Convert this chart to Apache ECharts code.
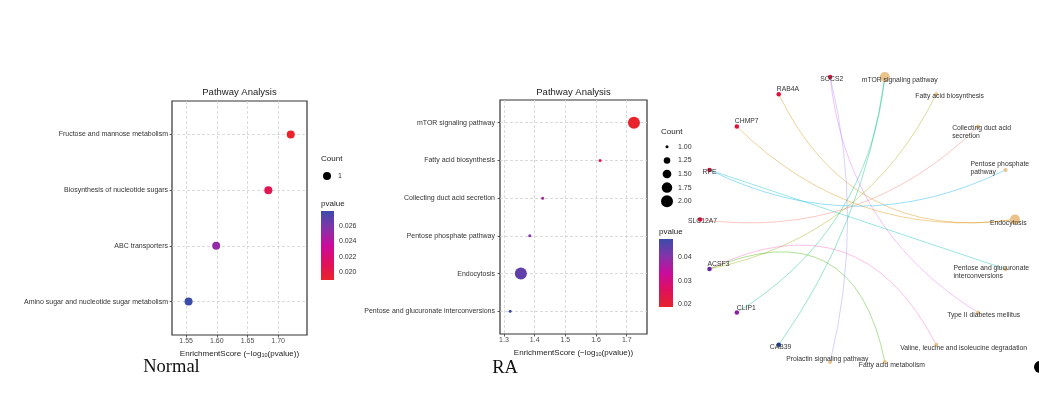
<!DOCTYPE html>
<html><head><meta charset="utf-8">
<script src="https://cdn.jsdelivr.net/npm/echarts@6/dist/echarts.min.js"></script>
<style>html,body{margin:0;padding:0;background:#fff}#c{width:1039px;height:395px}</style>
</head><body><div id="c"></div>
<script>
// ---------------- DATA ----------------
// Panel "Normal"
const normalPathways = ['Fructose and mannose metabolism', 'Biosynthesis of nucleotide sugars', 'ABC transporters', 'Amino sugar and nucleotide sugar metabolism'];
const normalScore = [1.7205, 1.684, 1.599, 1.554];
const normalPvalue = [0.0190, 0.0207, 0.0252, 0.0279];
const normalCount = [1, 1, 1, 1];
const normalXTicks = [1.55, 1.60, 1.65, 1.70];
const normalPTicks = [0.020, 0.022, 0.024, 0.026];
const normalCountTicks = [1];

// Panel "RA"
const raPathways = ['mTOR signaling pathway', 'Fatty acid biosynthesis', 'Collecting duct acid secretion', 'Pentose phosphate pathway', 'Endocytosis', 'Pentose and glucuronate interconversions'];
const raScore = [1.7235, 1.613, 1.426, 1.384, 1.355, 1.32];
const raPvalue = [0.0189, 0.0244, 0.0375, 0.0413, 0.0442, 0.0479];
const raCount = [2, 1, 1, 1, 2, 1];
const raXTicks = [1.3, 1.4, 1.5, 1.6, 1.7];
const raPTicks = [0.02, 0.03, 0.04];
const raCountTicks = [1.00, 1.25, 1.50, 1.75, 2.00];

// Network panel: node order around the circle (counter-clockwise from the right)
const networkOrder = ['Endocytosis', 'Pentose phosphate pathway', 'Collecting duct acid secretion', 'Fatty acid biosynthesis', 'mTOR signaling pathway',
  'SOCS2', 'RAB4A', 'CHMP7', 'RPE', 'SLC12A7', 'ACSF3', 'CLIP1', 'CAB39',
  'Prolactin signaling pathway', 'Fatty acid metabolism', 'Valine, leucine and isoleucine degradation', 'Type II diabetes mellitus', 'Pentose and glucuronate interconversions'];
const geneNodes = ['SOCS2', 'RAB4A', 'CHMP7', 'RPE', 'SLC12A7', 'ACSF3', 'CLIP1', 'CAB39'];
const networkLinks = [
  ['SOCS2', 'Prolactin signaling pathway'],
  ['SOCS2', 'Type II diabetes mellitus'],
  ['RAB4A', 'Endocytosis'],
  ['CHMP7', 'Endocytosis'],
  ['RPE', 'Pentose phosphate pathway'],
  ['RPE', 'Pentose and glucuronate interconversions'],
  ['SLC12A7', 'Collecting duct acid secretion'],
  ['ACSF3', 'Fatty acid biosynthesis'],
  ['ACSF3', 'Valine, leucine and isoleucine degradation'],
  ['ACSF3', 'Fatty acid metabolism'],
  ['CLIP1', 'mTOR signaling pathway'],
  ['CAB39', 'mTOR signaling pathway']
];

// ---------------- STYLE ----------------
const FONT = '"Liberation Sans", Arial, sans-serif';
const SERIF = '"Liberation Serif", "Times New Roman", serif';
const P_GRADIENT = ['#e8232b', '#e00f5e', '#c90c9c', '#8433aa', '#3b4ba9'];
const geneColor = { SOCS2: '#e0103a', RAB4A: '#e0103a', CHMP7: '#e0103a', RPE: '#e0103a', SLC12A7: '#e0103a', ACSF3: '#6a22a8', CLIP1: '#8a1fa8', CAB39: '#1f3c9c' };
const edgePalette = {
  'Collecting duct acid secretion': '#F8766D', 'Endocytosis': '#D89000', 'Fatty acid biosynthesis': '#A3A500',
  'Fatty acid metabolism': '#39B600', 'mTOR signaling pathway': '#00BF7D', 'Pentose and glucuronate interconversions': '#00BFC4',
  'Pentose phosphate pathway': '#00B0F6', 'Prolactin signaling pathway': '#9590FF', 'Type II diabetes mellitus': '#E76BF3',
  'Valine, leucine and isoleucine degradation': '#FF62BC'
};
const labelWrap = { 'Collecting duct acid secretion': 'Collecting duct acid\nsecretion', 'Pentose phosphate pathway': 'Pentose phosphate\npathway', 'Pentose and glucuronate interconversions': 'Pentose and glucuronate\ninterconversions' };
const labelNudge = {
  SOCS2: [-10, 2], RAB4A: [-2, -5], CHMP7: [-2, -5], RPE: [-7, 2], SLC12A7: [-12, 2], ACSF3: [-2, -5], CLIP1: [0, -4], CAB39: [-9, 2],
  'mTOR signaling pathway': [-23, 3], 'Fatty acid biosynthesis': [-21, 2], 'Collecting duct acid secretion': [-26, 6],
  'Pentose phosphate pathway': [-35, -2], 'Endocytosis': [-25, 4], 'Pentose and glucuronate interconversions': [-52, 3],
  'Type II diabetes mellitus': [-31, 3], 'Valine, leucine and isoleucine degradation': [-36, 3], 'Fatty acid metabolism': [-26, 3],
  'Prolactin signaling pathway': [-44, -3]
};

const grids = [], xAxes = [], yAxes = [], series = [], visualMaps = [], graphics = [];

function text(x, y, str, size, opts) {
  graphics.push({ type: 'text', x: x, y: y, silent: true, style: Object.assign({ text: str, fontSize: size, fontFamily: FONT, fill: '#222', align: 'left', verticalAlign: 'middle' }, opts || {}) });
}

function dotPlot(o) {
  const gi = grids.length;
  grids.push({ left: o.box[0], top: o.box[1], width: o.box[2], height: o.box[3], show: true, borderColor: '#333', borderWidth: 1.2, backgroundColor: '#fff' });
  const xi = xAxes.length;
  xAxes.push({
    gridIndex: gi, type: 'value', min: o.xRange[0], max: o.xRange[1], position: 'bottom',
    axisLine: { show: false, onZero: false },
    axisTick: { show: true, length: 2.5, customValues: o.xTicks, lineStyle: { color: '#333', width: 0.8 } },
    axisLabel: { customValues: o.xTicks, formatter: v => (+v).toFixed(o.dec), fontSize: 7, color: '#4d4d4d', fontFamily: FONT, margin: 3 },
    splitLine: { show: true, lineStyle: { type: [3, 2], color: '#d2d2d2', width: 0.8 } },
    name: 'EnrichmentScore (\u2212log{sub|10}(pvalue))', nameLocation: 'middle', nameGap: 13,
    nameTextStyle: { fontSize: 8, color: '#222', fontFamily: FONT, rich: { sub: { fontSize: 5.5, fontFamily: FONT, color: '#222', padding: [4, 0, 0, 0] } } }
  });
  const idx = o.cats.map((c, i) => i);
  const yi = yAxes.length;
  yAxes.push({
    gridIndex: gi, type: 'value', inverse: true, min: -0.6, max: o.cats.length - 0.4, position: 'left',
    axisLine: { show: false, onZero: false },
    axisTick: { show: true, length: 2.5, customValues: idx, lineStyle: { color: '#333', width: 0.8 } },
    axisLabel: { customValues: idx, formatter: v => o.cats[Math.round(v)], fontSize: 7, color: '#333', fontFamily: FONT, margin: o.labelMargin },
    splitLine: { show: true, lineStyle: { type: [3, 2], color: '#d2d2d2', width: 0.8 } }
  });
  const si = series.length;
  series.push({
    type: 'scatter', xAxisIndex: xi, yAxisIndex: yi, symbol: 'circle',
    data: o.cats.map((c, i) => [o.score[i], i, o.pvalue[i], o.count[i]]),
    symbolSize: v => o.sizeFn(v[3]), itemStyle: { opacity: 1 }, z: 5
  });
  const pmin = Math.min.apply(null, o.pvalue), pmax = Math.max.apply(null, o.pvalue);
  visualMaps.push({ type: 'continuous', show: false, seriesIndex: si, dimension: 2, min: pmin, max: pmax, inRange: { color: P_GRADIENT } });

  // title
  text(o.box[0] + o.box[2] / 2, o.titleY, 'Pathway Analysis', 9.5, { align: 'center' });

  // Count legend
  const cg = grids.length;
  grids.push({ left: o.countBox[0], top: o.countBox[1], width: o.countBox[2], height: o.countBox[3], show: false });
  const cxi = xAxes.length;
  xAxes.push({ gridIndex: cg, type: 'category', data: [''], show: false });
  const cyi = yAxes.length;
  yAxes.push({
    gridIndex: cg, type: 'category', inverse: true, position: 'right', data: o.countTicks.map(v => o.countFmt(v)),
    axisLine: { show: false }, axisTick: { show: false }, splitLine: { show: false },
    axisLabel: { fontSize: 7, color: '#333', fontFamily: FONT, margin: 4 }
  });
  series.push({
    type: 'scatter', xAxisIndex: cxi, yAxisIndex: cyi, symbol: 'circle', silent: true,
    data: o.countTicks.map((v, i) => [0, i, v]), symbolSize: v => o.sizeFn(v[2]), itemStyle: { color: '#000', opacity: 1 }
  });
  text(o.countBox[0] + 1, o.countTitleY, 'Count', 8);

  // pvalue colour bar
  const pg = grids.length;
  grids.push({ left: o.barBox[0], top: o.barBox[1], width: o.barBox[2], height: o.barBox[3], show: false });
  const pxi = xAxes.length;
  xAxes.push({ gridIndex: pg, type: 'value', min: 0, max: 1, show: false });
  const pyi = yAxes.length;
  yAxes.push({
    gridIndex: pg, type: 'value', min: pmin, max: pmax, position: 'right',
    axisLine: { show: false, onZero: false }, splitLine: { show: false },
    axisTick: { show: true, inside: true, length: 3, customValues: o.pTicks, lineStyle: { color: '#fff', width: 0.8 } },
    axisLabel: { customValues: o.pTicks, formatter: v => (+v).toFixed(o.pDec), fontSize: 7, color: '#333', fontFamily: FONT, margin: 5 }
  });
  yAxes.push({
    gridIndex: pg, type: 'value', min: pmin, max: pmax, position: 'left',
    axisLine: { show: false, onZero: false }, splitLine: { show: false }, axisLabel: { show: false },
    axisTick: { show: true, inside: true, length: 3, customValues: o.pTicks, lineStyle: { color: '#fff', width: 0.8 } }
  });
  series.push({
    type: 'custom', xAxisIndex: pxi, yAxisIndex: pyi, silent: true, z: 1,
    data: [[0.5, pmin, pmax]],
    renderItem: function (params, api) {
      const top = api.coord([api.value(0), api.value(2)]);
      const bot = api.coord([api.value(0), api.value(1)]);
      const cs = params.coordSys;
      return {
        type: 'rect', shape: { x: cs.x, y: top[1], width: cs.width, height: bot[1] - top[1] },
        style: { fill: new echarts.graphic.LinearGradient(0, 1, 0, 0, P_GRADIENT.map((c, i) => ({ offset: i / (P_GRADIENT.length - 1), color: c }))) }
      };
    }
  });
  text(o.barBox[0], o.pTitleY, 'pvalue', 8);
}

dotPlot({
  cats: normalPathways, score: normalScore, pvalue: normalPvalue, count: normalCount,
  xTicks: normalXTicks, dec: 2, xRange: [1.527, 1.747], box: [172, 101, 135, 234], labelMargin: 4, titleY: 92,
  sizeFn: c => 8, countTicks: normalCountTicks, countFmt: v => String(v), countBox: [320, 168, 14, 16], countTitleY: 159,
  pTicks: normalPTicks, pDec: 3, barBox: [321, 211, 13, 69], pTitleY: 204
});
dotPlot({
  cats: raPathways, score: raScore, pvalue: raPvalue, count: raCount,
  xTicks: raXTicks, dec: 1, xRange: [1.287, 1.766], box: [500, 100, 147, 234], labelMargin: 5, titleY: 92,
  sizeFn: c => Math.sqrt(9 + 135 * (c - 1)), countTicks: raCountTicks, countFmt: v => v.toFixed(2), countBox: [660, 140, 14, 68], countTitleY: 132,
  pTicks: raPTicks, pDec: 2, barBox: [659, 239, 14, 68], pTitleY: 232
});

// ---------------- Network ----------------
const ng = grids.length;
grids.push({ left: 700, top: 74.8, width: 315, height: 289.4, show: false });
const nxi = xAxes.length;
xAxes.push({ gridIndex: ng, type: 'value', min: -1, max: 1, show: false });
const nyi = yAxes.length;
yAxes.push({ gridIndex: ng, type: 'value', min: -1, max: 1, show: false });

const nodeAngle = {};
networkOrder.forEach((n, i) => { nodeAngle[n] = i * 360 / networkOrder.length; });
const degree = {};
networkLinks.forEach(l => { degree[l[0]] = (degree[l[0]] || 0) + 1; degree[l[1]] = (degree[l[1]] || 0) + 1; });

const graphNodes = networkOrder.map(name => {
  const a = nodeAngle[name] * Math.PI / 180;
  const isGene = geneNodes.indexOf(name) >= 0;
  return {
    name: name,
    value: [Math.cos(a), Math.sin(a)],
    symbolSize: isGene ? 4.5 : (degree[name] >= 2 ? 10 : 4),
    itemStyle: { color: isGene ? geneColor[name] : '#e9c38a' },
    label: {
      show: true, position: 'inside', align: 'left', verticalAlign: 'middle', offset: labelNudge[name] || [0, 0],
      formatter: labelWrap[name] || name, fontSize: 6.8, lineHeight: 8, color: '#333', fontFamily: FONT
    }
  };
});
const graphLinks = networkLinks.map(l => {
  const diff = ((nodeAngle[l[1]] - nodeAngle[l[0]]) % 360 + 360) % 360;
  const d = Math.min(diff, 360 - diff);
  const sign = diff < 180 ? 1 : -1;
  return { source: l[0], target: l[1], lineStyle: { color: edgePalette[l[1]], curveness: sign * 1.1 * (1 - d / 180) } };
});
series.push({
  type: 'graph', coordinateSystem: 'cartesian2d', xAxisIndex: nxi, yAxisIndex: nyi, silent: true,
  data: graphNodes, links: graphLinks, edgeSymbol: ['none', 'none'],
  lineStyle: { width: 0.9, opacity: 0.45 }, emphasis: { disabled: true }, z: 3
});

// panel captions
graphics.push({ type: 'text', x: 171.5, y: 367, silent: true, style: { text: 'Normal', fontSize: 18.5, fontFamily: SERIF, fill: '#111', align: 'center', verticalAlign: 'middle' } });
graphics.push({ type: 'text', x: 505, y: 368, silent: true, style: { text: 'RA', fontSize: 18.5, fontFamily: SERIF, fill: '#111', align: 'center', verticalAlign: 'middle' } });
graphics.push({ type: 'circle', shape: { cx: 1040, cy: 367, r: 6 }, style: { fill: '#000' }, silent: true });

const chart = echarts.init(document.getElementById('c'), null, { renderer: 'canvas' });
chart.setOption({
  backgroundColor: '#fff', animation: false,
  grid: grids, xAxis: xAxes, yAxis: yAxes, visualMap: visualMaps, series: series, graphic: graphics
});
</script></body></html>
